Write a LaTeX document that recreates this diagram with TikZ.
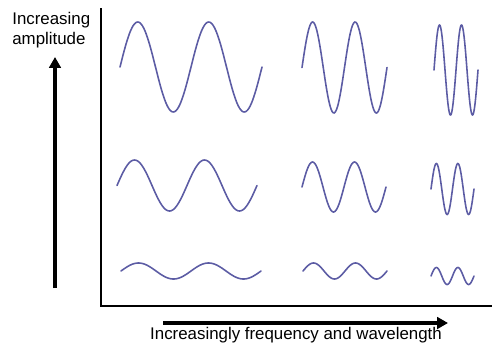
\documentclass[tikz,border=0pt]{standalone}
\usepackage{fontspec}
\setmainfont{Liberation Sans}
\usetikzlibrary{arrows.meta}
\definecolor{wavecol}{RGB}{92,92,164}
\begin{document}
\begin{tikzpicture}[x=0.02cm, y=-0.02cm,
    wave/.style={draw=wavecol, line width=0.9pt, line cap=round},
    axis/.style={line width=1.6pt},
    bigarrow/.style={line width=2.1pt, -{Triangle[length=6.2pt, width=6.6pt]}},
    lbl/.style={font=\fontsize{9.6}{11.3}\selectfont, inner sep=0pt}]
    \useasboundingbox (0,0) rectangle (500,359);
    % axes
    \coordinate (top) at (101,8);
    \coordinate (origin) at (101,306);
    \coordinate (right) at (492,306);
    \draw[axis] (top) -- (origin) -- (right);
    % direction arrows
    \coordinate (ampfrom) at (55,288);
    \coordinate (ampto) at (55,57);
    \draw[bigarrow] (ampfrom) -- (ampto);
    \coordinate (freqfrom) at (163,323);
    \coordinate (freqto) at (448,323);
    \draw[bigarrow] (freqfrom) -- (freqto);
    \node[lbl, anchor=north west, align=left] (amplabel) at (12,12) {Increasing\\amplitude};
    \node[lbl, anchor=base] (freqlabel) at (296,339) {Increasingly frequency and wavelength};
    % waves: start x / width / centre y / amplitude, two periods each
    \foreach \xs/\w/\cy/\a in {120/142/67/45, 302/85/67.5/45.5, 434/44/70/45,
                               117/140/185.5/25.5, 302/84/187/25, 431/43/189/25.5,
                               121/140/271/8, 303/84/271/8, 431/43/276/8.5}
        \draw[wave, samples=120, smooth, domain=\xs:\xs+\w]
            plot (\x, {\cy - \a*sin(720/\w*(\x-\xs))});
\end{tikzpicture}
\end{document}
